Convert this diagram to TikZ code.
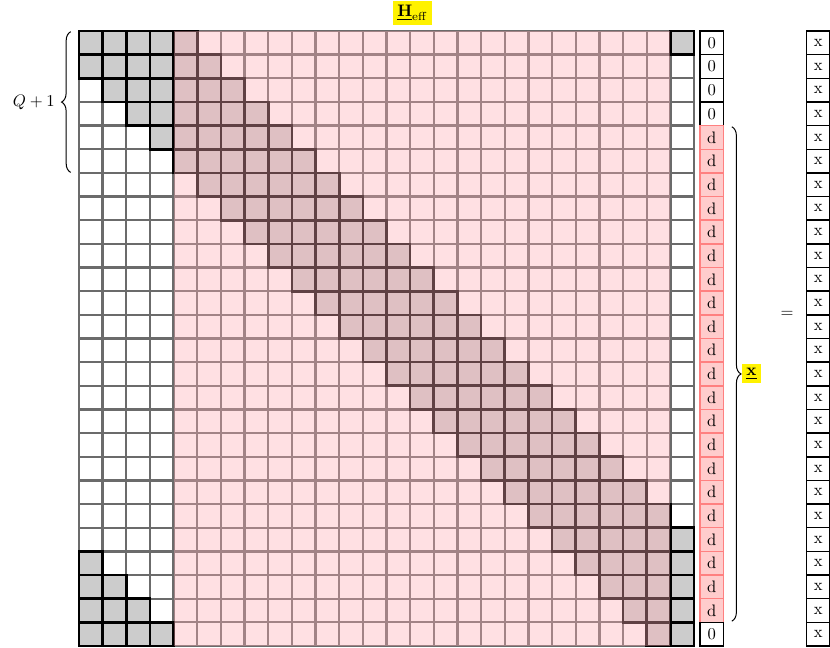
\documentclass[tikz,border=0pt]{standalone}
\usetikzlibrary{decorations.pathreplacing}
\definecolor{ovl}{RGB}{255,173,181}
\definecolor{dfill}{RGB}{255,204,204}
\definecolor{dline}{RGB}{255,128,128}
\begin{document}
\begin{tikzpicture}[x=0.5cm,y=-0.5cm,
  wcell/.style={draw=black!58,line width=1.4pt},
  gcell/.style={draw=black,fill=black!20,line width=1.6pt},
  vent/.style={draw=black,line width=0.9pt,minimum size=0.5cm,inner sep=0pt,outer sep=0pt},
  dent/.style={vent,draw=dline,fill=dfill},
  lbl/.style={fill=yellow,inner sep=2.5pt},
  bracestyle/.style={decorate,decoration={brace,amplitude=5.5pt},line width=0.6pt}]
\useasboundingbox (-3.34,-1.31) rectangle (31.75,26.05);
% base grid
\foreach \r in {0,...,25} {
  \foreach \c in {0,...,25} {
    \draw[wcell] (\c,\r) rectangle ++(1,1);
  }
}
% circulant band
\foreach \r in {0,...,25} {
  \foreach \c in {0,...,25} {
    \pgfmathtruncatemacro{\k}{mod(\c-\r+27,26)}
    \ifnum\k<6 \draw[gcell] (\c,\r) rectangle ++(1,1); \fi
  }
}
% pink overlay
\fill[ovl,opacity=0.375] (4,0) rectangle (25,26);
% data vector
\foreach \r in {0,...,25} {
  \pgfmathtruncatemacro{\isz}{(\r<4)||(\r>24)}
  \ifnum\isz=1
    \node[vent] (v\r) at (26.75,\r+0.5) {0};
  \else
    \node[dent] (v\r) at (26.75,\r+0.5) {d};
  \fi
}
% x vector
\foreach \r in {0,...,25} {
  \node[vent] (x\r) at (31.25,\r+0.5) {x};
}
% labels
\node[lbl] (heff) at (14.1,-0.76) {$\underline{\mathbf{H}}_{\mathrm{eff}}$};
\node (eq) at (29.94,11.97) {$=$};
% left brace
\coordinate (lbtop) at (-0.35,0.03);
\coordinate (lbbot) at (-0.35,5.98);
\draw[bracestyle] (lbbot) -- (lbtop) node[midway,left=6pt] (qlab) {$Q+1$};
% right brace
\coordinate (rbtop) at (27.6,4.05);
\coordinate (rbbot) at (27.6,24.95);
\draw[bracestyle] (rbtop) -- (rbbot) node[midway,right=6pt,lbl] (xlab) {$\underline{\mathbf{x}}$};
\end{tikzpicture}
\end{document}
